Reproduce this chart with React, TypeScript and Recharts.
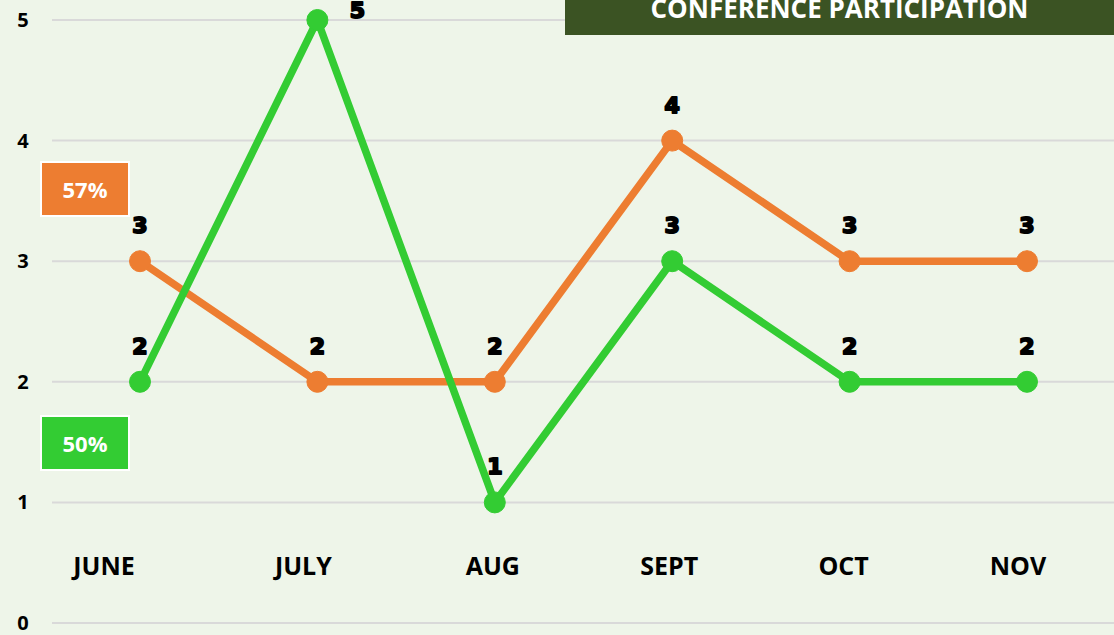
import React from "react";
import { LineChart, Line, XAxis, YAxis, CartesianGrid, LabelList } from "recharts";

const months = ["JUNE", "JULY", "AUG", "SEPT", "OCT", "NOV"];
const orangeValues = [3, 2, 2, 4, 3, 3];
const greenValues = [2, 5, 1, 3, 2, 2];
const yTicks = [0, 1, 2, 3, 4, 5];
const titleText = "CONFERENCE PARTICIPATION";
const orangePct = "57%";
const greenPct = "50%";

const ORANGE = "#ED7D31";
const GREEN = "#33CC33";
const BG = "#EEF5E9";
const TITLE_BG = "#3B5323";

const data = months.map((m, i) => ({ month: m, orange: orangeValues[i], green: greenValues[i] }));

const labelShift = [-36, -14, -2, -3, -6, -9];

const XTick = (props: any) => {
  const { x, payload, index } = props;
  return (
    <text
      x={x + (labelShift[index] ?? 0)}
      y={575}
      textAnchor="middle"
      fontFamily="'Open Sans', sans-serif"
      fontWeight={700}
      fontSize={25}
      fill="#000"
    >
      {payload.value}
    </text>
  );
};

const YTick = (props: any) => {
  const { y, payload } = props;
  return (
    <text
      x={23}
      y={y + 7}
      textAnchor="middle"
      fontFamily="'Open Sans', sans-serif"
      fontWeight={700}
      fontSize={20}
      fill="#000"
    >
      {payload.value}
    </text>
  );
};

const DataLabel = (props: any) => {
  const { x, y, value } = props;
  const atTop = y < 40;
  const lx = atTop ? x + 40 : x;
  const ly = atTop ? y - 2 : y - 28;
  return (
    <text
      x={lx}
      y={ly}
      textAnchor="middle"
      fontFamily="'DejaVu Sans', sans-serif"
      fontWeight={700}
      fontSize={22}
      fill="#000"
      stroke="#000"
      strokeWidth={2}
      strokeLinejoin="round"
      paintOrder="stroke"
    >
      {value}
    </text>
  );
};

const boxStyle = (bg: string, top: number): React.CSSProperties => ({
  position: "absolute",
  left: 40,
  top,
  width: 86,
  height: 52,
  background: bg,
  border: "2px solid #fff",
  color: "#fff",
  fontFamily: "'Open Sans', sans-serif",
  fontWeight: 700,
  fontSize: 22,
  display: "flex",
  alignItems: "center",
  justifyContent: "center",
});

export default function App() {
  return (
    <div style={{ position: "absolute", left: 0, top: 0, width: 1114, height: 635, background: BG, overflow: "hidden" }}>
      <LineChart width={1114} height={635} data={data} margin={{ top: 20, right: 0, bottom: 0, left: 0 }}>
        <CartesianGrid horizontal vertical={false} stroke="#D9D9D9" strokeWidth={2} />
        <XAxis
          dataKey="month"
          axisLine={false}
          tickLine={false}
          height={12}
          padding={{ left: 88, right: 87 }}
          tick={<XTick />}
          interval={0}
        />
        <YAxis
          width={52}
          domain={[0, 5]}
          ticks={yTicks}
          axisLine={false}
          tickLine={false}
          tick={<YTick />}
          interval={0}
        />
        <Line
          dataKey="orange"
          stroke={ORANGE}
          strokeWidth={7.5}
          dot={{ r: 10.5, fill: ORANGE, stroke: ORANGE, strokeWidth: 1 }}
          activeDot={false}
          isAnimationActive={false}
        >
          <LabelList dataKey="orange" content={<DataLabel />} />
        </Line>
        <Line
          dataKey="green"
          stroke={GREEN}
          strokeWidth={7.5}
          dot={{ r: 10.5, fill: GREEN, stroke: GREEN, strokeWidth: 1 }}
          activeDot={false}
          isAnimationActive={false}
        >
          <LabelList dataKey="green" content={<DataLabel />} />
        </Line>
      </LineChart>
      <div
        style={{
          position: "absolute",
          left: 565,
          top: 0,
          width: 549,
          height: 35,
          background: TITLE_BG,
          overflow: "hidden",
        }}
      >
        <div
          style={{
            position: "absolute",
            left: 0,
            width: 549,
            top: -14,
            textAlign: "center",
            color: "#fff",
            fontFamily: "'Open Sans', sans-serif",
            fontWeight: 700,
            fontSize: 26,
            lineHeight: "44px",
            whiteSpace: "nowrap",
          }}
        >
          {titleText}
        </div>
      </div>
      <div style={boxStyle(ORANGE, 161)}>{orangePct}</div>
      <div style={boxStyle(GREEN, 415)}>{greenPct}</div>
    </div>
  );
}
